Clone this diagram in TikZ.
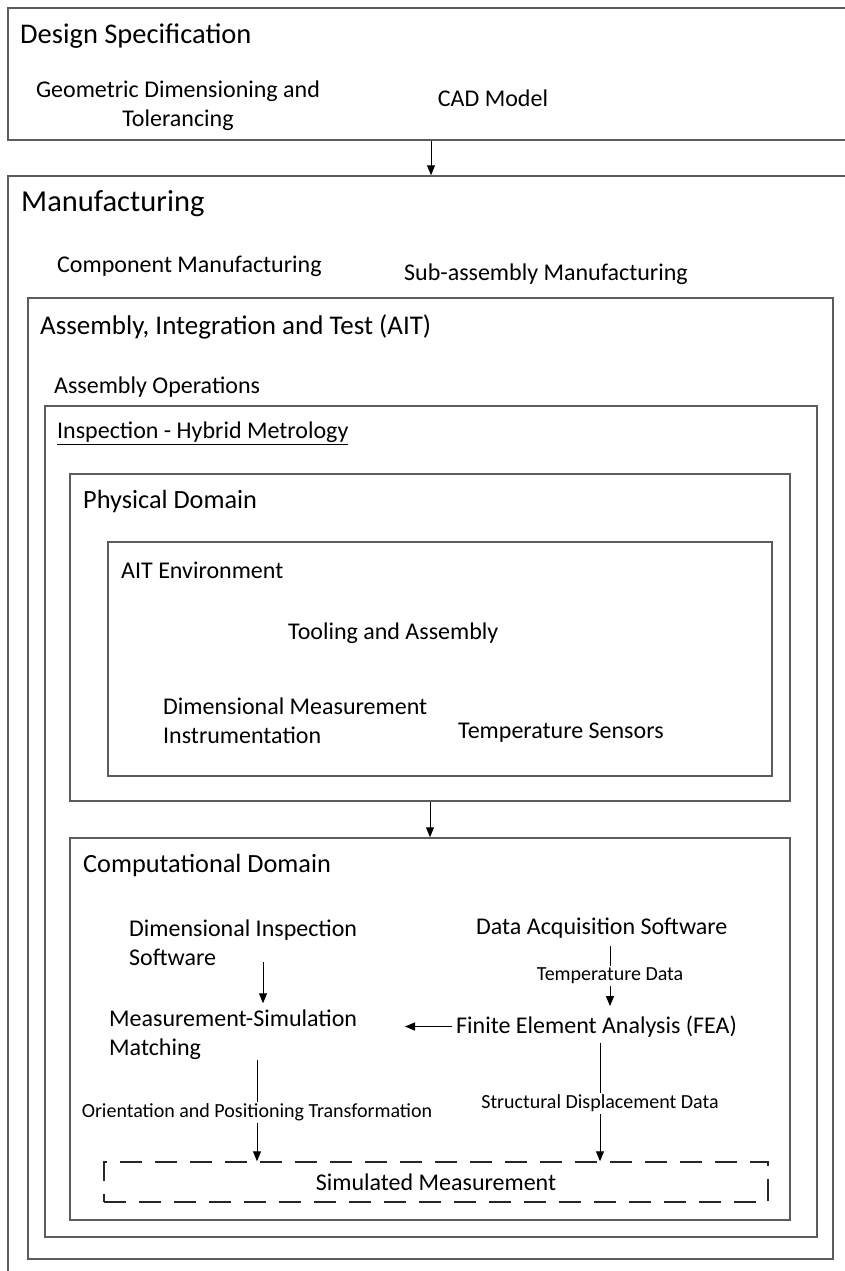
\documentclass[tikz,border=0pt]{standalone}
\usepackage{fontspec}
\setmainfont{Carlito}
\usetikzlibrary{arrows.meta,calc}
\definecolor{boxline}{HTML}{5C5C5C}
\newcommand\fsTitle{\fontsize{28.5}{34}\selectfont}
\newcommand\fsTitleB{\fontsize{30.5}{36}\selectfont}
\newcommand\fsSub{\fontsize{26.3}{32}\selectfont}
\newcommand\fsSubB{\fontsize{27}{32}\selectfont}
\newcommand\fsBody{\fontsize{24}{29.3}\selectfont}
\newcommand\fsSmall{\fontsize{20}{24}\selectfont}
\begin{document}
\begin{tikzpicture}[x=1pt,y=-1pt,
  box/.style={draw=boxline,line width=1.5pt,rectangle,inner sep=0pt,anchor=center},
  dbox/.style={draw=black!85,line width=1.5pt,dash pattern=on 22pt off 13pt,rectangle,inner sep=0pt,font=\fsBody},
  lbl/.style={inner sep=0pt,font=\fsBody,text=black,yshift=-2.5pt},
  ttl/.style={lbl,font=\fsTitle,anchor=west},
  sub/.style={lbl,font=\fsSub,anchor=west},
  elbl/.style={fill=white,inner sep=2pt,font=\fsSmall,text=black},
  arr/.style={draw=black,line width=1pt,-{Triangle[length=10pt,width=8pt]}},
]
\useasboundingbox (0,0) rectangle (845,1271);
\fill[white] (0,0) rectangle (845,1271);
\clip (0,0) rectangle (845,1271);
% boxes
\node[box,minimum width=846pt,minimum height=132pt] (ds) at (431,74) {};
\node[box,minimum width=846pt,minimum height=1114pt] (mfg) at (431,733) {};
\node[box,minimum width=805pt,minimum height=961pt] (ait) at (430.5,778.5) {};
\node[box,minimum width=772pt,minimum height=831pt] (insp) at (431,821.5) {};
\node[box,minimum width=720pt,minimum height=327pt] (phys) at (430,637.5) {};
\node[box,minimum width=664pt,minimum height=234pt] (env) at (440,659) {};
\node[box,minimum width=720pt,minimum height=382pt] (cd) at (430,1029) {};
\node[dbox,minimum width=664pt,minimum height=40pt] (sim) at (436,1182) {Simulated Measurement};
% texts
\node[ttl] (dsT) at (20,34) {Design Specification};
\node[lbl,align=center] (gdt) at (178,103) {Geometric Dimensioning and\\Tolerancing};
\node[lbl] (cad) at (493,96) {CAD Model};
\node[ttl,font=\fsTitleB] (mfgT) at (21,201) {Manufacturing};
\node[lbl,anchor=west] (cmfg) at (57,264) {Component Manufacturing};
\node[lbl,anchor=west] (smfg) at (404,272) {Sub-assembly Manufacturing};
\node[sub,font=\fsSubB] (aitT) at (40,324) {Assembly, Integration and Test (AIT)};
\node[lbl,anchor=west] (asmop) at (54,385) {Assembly Operations};
\node[lbl,anchor=west] (inspT) at (57,431) {\underline{Inspection - Hybrid Metrology}};
\node[sub] (physT) at (83,499) {Physical Domain};
\node[lbl,anchor=west] (envT) at (121,568) {AIT Environment};
\node[lbl,anchor=west] (tool) at (288,631) {Tooling and Assembly};
\node[lbl,anchor=west,align=left] (dmi) at (163,718) {Dimensional Measurement\\Instrumentation};
\node[lbl,anchor=west] (temp) at (458,730) {Temperature Sensors};
\node[sub] (cdT) at (83,863) {Computational Domain};
\node[lbl,anchor=west,align=left] (dis) at (129,940) {Dimensional Inspection\\Software};
\node[lbl,anchor=west] (das) at (476,926) {Data Acquisition Software};
\node[lbl,anchor=west,align=left] (msm) at (109,1032) {Measurement-Simulation\\Matching};
\node[lbl,anchor=west] (fea) at (456,1024) {Finite Element Analysis (FEA)};
% column coordinates
\coordinate (cA) at (257,0);
\coordinate (cB) at (263,0);
\coordinate (cC) at (600,0);
\coordinate (cD) at (610,0);
\coordinate (msmR) at (405,0);
% connectors
\draw[arr] (ds.south) -- (mfg.north);
\draw[arr] (phys.south) -- (cd.north);
\draw[arr,shorten <=7.5pt,shorten >=9.5pt] (das.south -| cD) -- node[elbl,yshift=1.5pt] {Temperature Data} (fea.north -| cD);
\draw[arr,shorten <=-3.5pt,shorten >=6pt] (dis.south -| cB) -- (msm.north -| cB);
\draw[arr,shorten <=4pt] (fea.west) -- (fea.west -| msmR);
\draw[arr] (msm.south -| cA) -- node[elbl,yshift=-2pt] {Orientation and Positioning Transformation} (sim.north -| cA);
\draw[arr,shorten <=5.5pt] (fea.south -| cC) -- node[elbl,yshift=-4pt] {Structural Displacement Data} (sim.north -| cC);
\end{tikzpicture}
\end{document}
